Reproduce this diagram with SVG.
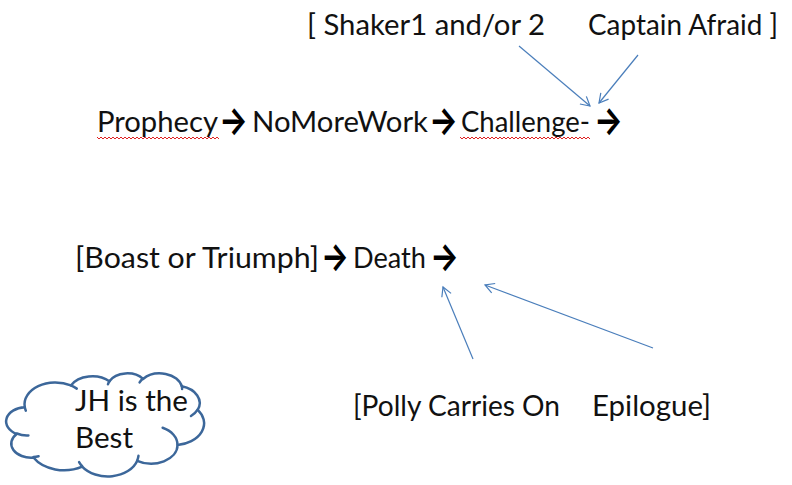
<svg xmlns="http://www.w3.org/2000/svg" width="792" height="485" viewBox="0 0 792 485">
<style>
.t{font-family:Lato,"Liberation Sans",sans-serif;font-size:28px;fill:#111;}
.ar{font-family:Inter,"DejaVu Sans",sans-serif;font-weight:bold;font-size:38px;fill:#000;}
.c{fill:none;stroke:#4A7EBB;stroke-width:1.2;}
.sq{fill:none;stroke:#E02020;stroke-width:1;}
.cl{fill:#fff;stroke:#3C679A;stroke-width:2.5;stroke-linejoin:round;}
.cli{fill:none;stroke:#3C679A;stroke-width:2.5;stroke-linecap:round;}
</style>
<defs>
<marker id="oa" markerWidth="12" markerHeight="12" refX="10" refY="6" orient="auto" markerUnits="userSpaceOnUse">
<path d="M1,1 L10,6 L1,11" fill="none" stroke="#4A7EBB" stroke-width="1.2"/>
</marker>
</defs>
<rect width="792" height="485" fill="#fff"/>
<g id="top-labels">
<text class="t" x="307" y="35" textLength="238" lengthAdjust="spacingAndGlyphs">[ Shaker1 and/or 2</text>
<text class="t" x="588" y="35" textLength="190" lengthAdjust="spacingAndGlyphs">Captain Afraid ]</text>
</g>
<g id="line1">
<text class="t" x="97" y="132" textLength="121" lengthAdjust="spacingAndGlyphs">Prophecy</text>
<text class="ar" x="219" y="134" textLength="29" lengthAdjust="spacingAndGlyphs">→</text>
<text class="t" x="252" y="132" textLength="176" lengthAdjust="spacingAndGlyphs">NoMoreWork</text>
<text class="ar" x="429" y="134" textLength="29" lengthAdjust="spacingAndGlyphs">→</text>
<text class="t" x="461" y="132" textLength="129" lengthAdjust="spacingAndGlyphs">Challenge-</text>
<text class="ar" x="594" y="134" textLength="29" lengthAdjust="spacingAndGlyphs">→</text>
<polyline class="sq" points="97,137 99,139 101,137 103,139 105,137 107,139 109,137 111,139 113,137 115,139 117,137 119,139 121,137 123,139 125,137 127,139 129,137 131,139 133,137 135,139 137,137 139,139 141,137 143,139 145,137 147,139 149,137 151,139 153,137 155,139 157,137 159,139 161,137 163,139 165,137 167,139 169,137 171,139 173,137 175,139 177,137 179,139 181,137 183,139 185,137 187,139 189,137 191,139 193,137 195,139 197,137 199,139 201,137 203,139 205,137 207,139 209,137 211,139 213,137 215,139 217,137 219,139"/>
<polyline class="sq" points="460,137 462,139 464,137 466,139 468,137 470,139 472,137 474,139 476,137 478,139 480,137 482,139 484,137 486,139 488,137 490,139 492,137 494,139 496,137 498,139 500,137 502,139 504,137 506,139 508,137 510,139 512,137 514,139 516,137 518,139 520,137 522,139 524,137 526,139 528,137 530,139 532,137 534,139 536,137 538,139 540,137 542,139 544,137 546,139 548,137 550,139 552,137 554,139 556,137 558,139 560,137 562,139 564,137 566,139 568,137 570,139 572,137 574,139 576,137 578,139 580,137 582,139 584,137 586,139 588,137 590,139"/>
</g>
<g id="line2">
<text class="t" x="75" y="268" textLength="244" lengthAdjust="spacingAndGlyphs">[Boast or Triumph]</text>
<text class="ar" x="321" y="270" textLength="28" lengthAdjust="spacingAndGlyphs">→</text>
<text class="t" x="353" y="268" textLength="73" lengthAdjust="spacingAndGlyphs">Death</text>
<text class="ar" x="430" y="270" textLength="29" lengthAdjust="spacingAndGlyphs">→</text>
</g>
<g id="bottom-labels">
<text class="t" x="353" y="416" textLength="207" lengthAdjust="spacingAndGlyphs">[Polly Carries On</text>
<text class="t" x="592" y="416" textLength="119" lengthAdjust="spacingAndGlyphs">Epilogue]</text>
</g>
<g id="cloud">
<path class="cl" d="M24.78,407.26 A30.80,21.91 0 0 1 70.87,385.40 A24.32,17.33 0 0 1 109.41,381.19 A19.91,14.17 0 0 1 143.05,378.93 A22.15,15.72 0 0 1 181.74,386.31 A24.32,17.34 0 0 1 197.70,409.87 A30.90,21.98 0 0 1 177.57,445.02 A26.38,18.76 0 0 1 137.22,460.78 A30.79,21.97 0 0 1 82.15,466.62 A35.20,25.14 0 0 1 33.46,457.57 A19.88,14.11 0 0 1 16.64,433.91 A19.81,14.17 0 0 1 24.78,407.26 Z"/>
<path class="cli" d="M28.40,435.41 A19.81,14.17 0 0 1 16.85,433.51 M38.59,456.21 A19.88,14.11 0 0 1 33.54,457.12 M82.14,466.20 A30.79,21.97 0 0 1 79.10,462.06 M138.46,455.86 A30.79,21.97 0 0 1 137.24,460.41 M162.64,427.73 A26.38,18.76 0 0 1 177.46,444.74 M197.61,409.61 A24.32,17.34 0 0 1 191.00,415.99 M181.76,385.94 A22.15,15.72 0 0 1 182.11,388.95 M139.60,382.42 A22.15,15.72 0 0 1 142.99,378.58 M107.97,384.25 A19.91,14.17 0 0 1 109.61,380.94 M70.84,385.38 A30.80,21.91 0 0 1 76.77,388.60 M25.82,410.65 A30.80,21.91 0 0 1 24.78,407.26"/>
<text class="t" x="75" y="411" textLength="113" lengthAdjust="spacingAndGlyphs">JH is the</text>
<text class="t" x="75" y="448" textLength="58" lengthAdjust="spacingAndGlyphs">Best</text>
</g>
<g id="connectors">
<line class="c" x1="519" y1="46" x2="590" y2="106" marker-end="url(#oa)"/>
<line class="c" x1="638" y1="55" x2="599" y2="103" marker-end="url(#oa)"/>
<line class="c" x1="473" y1="359" x2="443" y2="287" marker-end="url(#oa)"/>
<line class="c" x1="653" y1="348" x2="485" y2="285" marker-end="url(#oa)"/>
</g>
</svg>
